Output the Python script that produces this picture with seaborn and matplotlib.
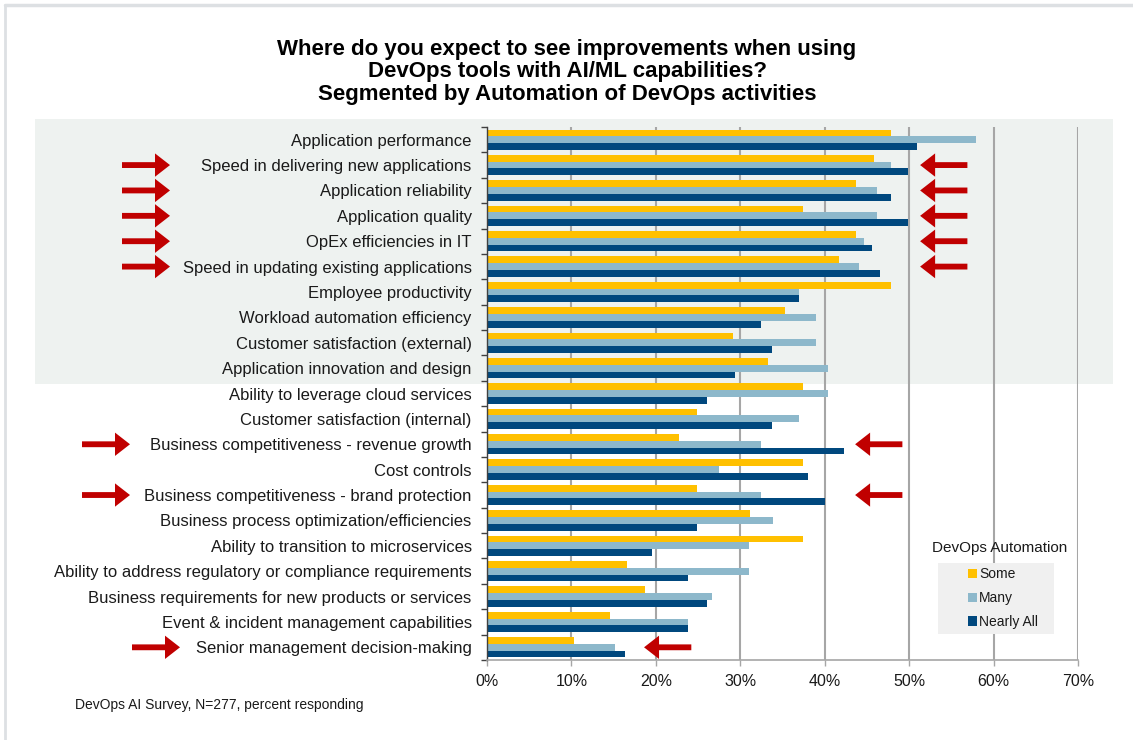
import matplotlib
matplotlib.use("Agg")
import matplotlib.pyplot as plt
import matplotlib.transforms as mtransforms
import seaborn as sns
import pandas as pd
import numpy as np
from matplotlib import font_manager
from matplotlib.patches import Rectangle, Patch
from matplotlib.lines import Line2D

# ---- data -------------------------------------------------------------
categories = [
    "Application performance",
    "Speed in delivering new applications",
    "Application reliability",
    "Application quality",
    "OpEx efficiencies in IT",
    "Speed in updating existing applications",
    "Employee productivity",
    "Workload automation efficiency",
    "Customer satisfaction (external)",
    "Application innovation and design",
    "Ability to leverage cloud services",
    "Customer satisfaction (internal)",
    "Business competitiveness - revenue growth",
    "Cost controls",
    "Business competitiveness - brand protection",
    "Business process optimization/efficiencies",
    "Ability to transition to microservices",
    "Ability to address regulatory or compliance requirements",
    "Business requirements for new products or services",
    "Event & incident management capabilities",
    "Senior management decision-making",
]
some = [47.8, 45.8, 43.7, 37.4, 43.7, 41.7, 47.8, 35.3, 29.1, 33.3, 37.4,
        24.9, 22.8, 37.4, 24.9, 31.2, 37.4, 16.6, 18.7, 14.6, 10.3]
many = [57.9, 47.8, 46.2, 46.2, 44.7, 44.1, 36.9, 39.0, 39.0, 40.4, 40.4,
        36.9, 32.4, 27.5, 32.4, 33.9, 31.0, 31.0, 26.7, 23.8, 15.2]
nearly_all = [50.9, 49.9, 47.8, 49.9, 45.6, 46.6, 36.9, 32.4, 33.7, 29.4, 26.1,
              33.7, 42.3, 38.0, 40.0, 24.9, 19.5, 23.8, 26.1, 23.8, 16.3]
segments = ["Some", "Many", "Nearly All"]
x_ticks = [0, 10, 20, 30, 40, 50, 60, 70]

title = ("Where do you expect to see improvements when using\n"
         "DevOps tools with AI/ML capabilities?\n"
         "Segmented by Automation of DevOps activities")
legend_title = "DevOps Automation"
footnote = "DevOps AI Survey, N=277, percent responding"

# highlighted rows
highlight_rows = [1, 2, 3, 4, 5, 12, 14, 20]

# ---- styling ----------------------------------------------------------
sns.set_theme(style="white")
installed = {f.name for f in font_manager.fontManager.ttflist}
body_font = "Liberation Sans" if "Liberation Sans" in installed else "DejaVu Sans"
plt.rcParams["font.family"] = [body_font, "DejaVu Sans"]

colors = ["#FFC000", "#8DB8CB", "#00487E"]
text_color = "#1a1a1a"
red = "#C00000"

W, H = 1133, 740
fig = plt.figure(figsize=(W / 100, H / 100), dpi=100)
fig.patch.set_facecolor("white")


def fx(px):
    return px / W


def fy(py):
    return 1 - py / H


# page edge lines (top and left) and shaded band behind the first ten rows
fig.add_artist(Line2D([fx(5), fx(1133)], [fy(5), fy(5)], transform=fig.transFigure,
                      color="#DDE0E3", lw=2.5, zorder=-2))
fig.add_artist(Line2D([fx(5), fx(5)], [fy(5), fy(740)], transform=fig.transFigure,
                      color="#DDE0E3", lw=2.0, zorder=-2))
fig.add_artist(Rectangle((fx(35), fy(384)), fx(1113) - fx(35), fy(119) - fy(384),
                         transform=fig.transFigure, facecolor="#EEF2F0",
                         edgecolor="none", zorder=-1))

ax = fig.add_axes([fx(487), fy(660), fx(1078) - fx(487), fy(127) - fy(660)])
ax.patch.set_alpha(0)

df = pd.DataFrame({
    "category": categories * 3,
    "segment": np.repeat(segments, len(categories)),
    "value": some + many + nearly_all,
})

sns.barplot(data=df, y="category", x="value", hue="segment", hue_order=segments,
            order=categories, palette=colors, orient="h", width=0.8,
            saturation=1, legend=False, ax=ax, edgecolor="none")

ax.set_xlim(0, 70)
ax.set_ylim(len(categories) - 0.5, -0.5)
ax.set_xticks(x_ticks)
ax.set_xticklabels([f"{t}%" for t in x_ticks], fontsize=11.5, color=text_color)
ax.xaxis.grid(True, color="#A6A6A6", lw=1.5)
ax.yaxis.grid(False)
ax.set_axisbelow(True)
ax.set_xlabel("")
ax.set_ylabel("")

ax.set_yticks(range(len(categories)))
ax.set_yticklabels(categories, fontsize=12, color=text_color)
ax.set_yticks(np.arange(-0.5, len(categories)), minor=True)
ax.tick_params(axis="y", which="major", length=0, pad=11)
ax.tick_params(axis="y", which="minor", length=4, width=1, color="#404040",
               direction="out", left=True)
ax.tick_params(axis="x", which="major", length=4, width=1, color="#A6A6A6",
               direction="out", bottom=True, pad=6)

for side in ["top", "right"]:
    ax.spines[side].set_visible(False)
ax.spines["left"].set_color("#404040")
ax.spines["left"].set_linewidth(1)
ax.spines["bottom"].set_color("#A6A6A6")
ax.spines["bottom"].set_linewidth(1.2)

# red arrows marking highlighted rows: left of the label and right of the bars
arrow_style = "simple,head_length=0.9,head_width=1.4,tail_width=0.35"
px_data = mtransforms.blended_transform_factory(
    fig.dpi_scale_trans + mtransforms.Affine2D().scale(1 / 100), ax.transData)
left_tips = {1: 170, 2: 170, 3: 170, 4: 170, 5: 170, 12: 130, 14: 130, 20: 180}
right_tips = {1: 51.3, 2: 51.3, 3: 51.3, 4: 51.3, 5: 51.3, 12: 43.6, 14: 43.6, 20: 18.6}
for row in highlight_rows:
    tip = left_tips[row]
    ax.annotate("", xy=(tip, row), xytext=(tip - 48, row),
                xycoords=px_data, textcoords=px_data,
                arrowprops=dict(arrowstyle=arrow_style, color=red, mutation_scale=12,
                                shrinkA=0, shrinkB=0, lw=0),
                annotation_clip=False)
    rtip = right_tips[row]
    ax.annotate("", xy=(rtip, row), xytext=(rtip + 5.6, row),
                xycoords="data", textcoords="data",
                arrowprops=dict(arrowstyle=arrow_style, color=red, mutation_scale=12,
                                shrinkA=0, shrinkB=0, lw=0),
                annotation_clip=False)

# title
fig.text(fx(567), fy(72), title, ha="center", va="center", fontsize=16,
         fontweight="bold", color="black", linespacing=1.12)

# legend: title above a light grey box with square swatches
fig.text(fx(1000), fy(548), legend_title, ha="center", va="center",
         fontsize=11, color=text_color)
fig.add_artist(Rectangle((fx(938), fy(634)), fx(1054) - fx(938), fy(563) - fy(634),
                         transform=fig.transFigure, facecolor="#F0F0F0",
                         edgecolor="none", zorder=3))
handles = [Patch(facecolor=c, edgecolor="none") for c in colors]
leg = fig.legend(handles, segments, loc="upper left",
                 bbox_to_anchor=(fx(955), fy(555)), frameon=False,
                 handlelength=0.65, handleheight=0.65, handletextpad=0.2,
                 labelspacing=0.7, borderpad=0.4, fontsize=10)
leg.set_zorder(4)
for t in leg.get_texts():
    t.set_color(text_color)

fig.text(fx(75), fy(705), footnote, ha="left", va="center", fontsize=10,
         color=text_color)

fig.savefig("out.png", dpi=100)
